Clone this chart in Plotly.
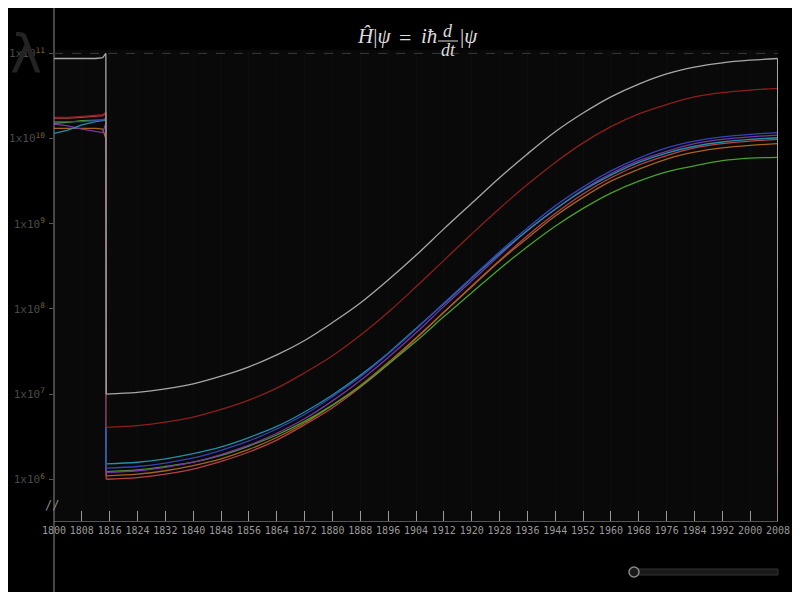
import plotly.graph_objects as go

# ---------------- data (log10 of values) ----------------
pre_years = [1800, 1804, 1808, 1812, 1814, 1814.9]
post_years = [1815, 1824, 1832, 1840, 1848, 1856, 1864, 1872, 1880, 1888, 1896,
              1904, 1912, 1920, 1928, 1936, 1944, 1952, 1960, 1968, 1976, 1984,
              1992, 2000, 2007.9]
end_year = 2008
end_log = 5.0

gray_pre = [10.94, 10.94, 10.94, 10.94, 10.95, 11.00]
gray_post = [7.00, 7.02, 7.06, 7.12, 7.21, 7.32, 7.46, 7.63, 7.84, 8.07, 8.34, 8.63, 8.94,
             9.24, 9.54, 9.82, 10.08, 10.30, 10.49, 10.64, 10.76, 10.84, 10.89, 10.92, 10.94]
red_pre = [10.25, 10.25, 10.26, 10.27, 10.28, 10.31]
red_post = [6.61, 6.63, 6.67, 6.73, 6.82, 6.93, 7.07, 7.25, 7.45, 7.69, 7.96, 8.26, 8.57,
            8.88, 9.18, 9.46, 9.72, 9.95, 10.14, 10.29, 10.40, 10.49, 10.54, 10.57, 10.59]
blue_pre = [10.20, 10.20, 10.20, 10.21, 10.22, 10.24]
blue_post = [6.13, 6.15, 6.19, 6.25, 6.34, 6.45, 6.59, 6.76, 6.97, 7.20, 7.47, 7.76, 8.07,
             8.37, 8.67, 8.95, 9.21, 9.43, 9.62, 9.77, 9.89, 9.97, 10.02, 10.05, 10.07]
purple_pre = [10.17, 10.15, 10.11, 10.08, 10.07, 10.18]
purple_post = [6.08, 6.10, 6.14, 6.20, 6.29, 6.40, 6.54, 6.71, 6.92, 7.16, 7.43, 7.72, 8.03,
               8.33, 8.63, 8.92, 9.17, 9.40, 9.59, 9.74, 9.85, 9.94, 9.99, 10.02, 10.04]
cyan_pre = [10.06, 10.10, 10.16, 10.20, 10.21, 10.23]
cyan_post = [6.18, 6.20, 6.24, 6.30, 6.38, 6.49, 6.62, 6.79, 6.99, 7.22, 7.48, 7.77, 8.06,
             8.36, 8.65, 8.92, 9.17, 9.39, 9.57, 9.72, 9.83, 9.91, 9.96, 9.99, 10.01]
orange_pre = [10.12, 10.12, 10.12, 10.12, 10.11, 10.00]
orange_post = [6.04, 6.06, 6.10, 6.16, 6.24, 6.35, 6.49, 6.66, 6.87, 7.10, 7.37, 7.66, 7.96,
               8.26, 8.56, 8.83, 9.09, 9.31, 9.50, 9.64, 9.76, 9.84, 9.89, 9.92, 9.94]
green_pre = [10.18, 10.19, 10.21, 10.22, 10.22, 10.22]
green_post = [6.09, 6.11, 6.15, 6.20, 6.28, 6.39, 6.52, 6.68, 6.87, 7.09, 7.35, 7.62, 7.91,
              8.19, 8.47, 8.73, 8.97, 9.18, 9.36, 9.50, 9.61, 9.68, 9.74, 9.77, 9.78]
pink_pre = [10.24, 10.24, 10.25, 10.26, 10.27, 10.30]
pink_post = [6.00, 6.02, 6.06, 6.12, 6.21, 6.32, 6.46, 6.64, 6.84, 7.08, 7.35, 7.65, 7.96,
             8.27, 8.57, 8.86, 9.12, 9.35, 9.54, 9.69, 9.80, 9.89, 9.94, 9.97, 9.99]

series = [
    ("pink", pink_pre, pink_post, "#b8404c"),
    ("orange", orange_pre, orange_post, "#a8641c"),
    ("green", green_pre, green_post, "#48a228"),
    ("purple", purple_pre, purple_post, "#7a34a8"),
    ("cyan", cyan_pre, cyan_post, "#2290aa"),
    ("blue", blue_pre, blue_post, "#3444b4"),
    ("red", red_pre, red_post, "#8e1e1e"),
    ("gray", gray_pre, gray_post, "#a8a8a8"),
]

x_ticks = list(range(1800, 2009, 8))
y_exps = [6, 7, 8, 9, 10, 11]

# ---------------- figure ----------------
# the page adds an 8px body margin, so the figure is 8px smaller and margins shifted
OFF = 8
W, H = 800 - OFF, 592 - OFF
L, R, T, B = 54 - OFF, 22, 50 - OFF, 71
PW, PH = W - L - R, H - T - B
YMIN, YMAX = 5.51, 11.04


def px(xp):  # page pixel -> paper
    return (xp - 54) / PW


def py(yp):
    return (521 - yp) / PH


fig = go.Figure()
for name, pre, post, col in series:
    ln = dict(color=col, width=1.3)
    fig.add_trace(go.Scatter(x=pre_years + post_years[:1],
                             y=[10 ** v for v in pre + post[:1]],
                             mode="lines", line=ln, hoverinfo="skip"))
    fig.add_trace(go.Scatter(x=post_years, y=[10 ** v for v in post],
                             mode="lines", line=dict(color=col, width=1.3, shape="spline",
                                                     smoothing=1.0),
                             hoverinfo="skip"))
    fig.add_trace(go.Scatter(x=post_years[-1:] + [end_year],
                             y=[10 ** v for v in post[-1:] + [end_log]],
                             mode="lines", line=ln, hoverinfo="skip"))

mono = "DejaVu Sans Mono"
fig.update_layout(
    width=W, height=H, margin=dict(l=L, r=R, t=T, b=B, autoexpand=False),
    paper_bgcolor="#000000", plot_bgcolor="#080908",
    showlegend=False,
    xaxis=dict(range=[1800, 2008], tickvals=x_ticks, ticks="inside", ticklen=10,
               tickcolor="#9a9a9a", tickwidth=1, showline=True, linecolor="#555555",
               tickangle=0, automargin=False,
               tickfont=dict(family=mono, size=10, color="#9a9a9a"),
               showgrid=True, gridcolor="#0d0f0d", zeroline=False),
    yaxis=dict(type="log", range=[YMIN, YMAX], automargin=False,
               tickvals=[10 ** e for e in y_exps],
               ticktext=["1x10<sup><span style='color:#7a6418'>%d</span></sup>" % e for e in y_exps],
               ticks="outside", ticklen=4, tickcolor="#555555", ticklabelstandoff=2,
               tickfont=dict(family=mono, size=11, color="#4a4a4a"),
               showgrid=False, zeroline=False, showline=False),
)

shapes = []
shapes.append(dict(type="line", xref="paper", yref="paper", x0=0, x1=0,
                   y0=py(592), y1=py(0), line=dict(color="#8a8a8a", width=1)))
y11 = (11 - YMIN) / (YMAX - YMIN)
shapes.append(dict(type="line", xref="paper", yref="paper", x0=0, x1=1,
                   y0=y11, y1=y11, line=dict(color="#3a3a3a", width=1, dash="dash")))
shapes.append(dict(type="rect", xref="paper", yref="paper", x0=px(634), x1=px(778),
                   y0=py(575), y1=py(569), fillcolor="#1a1a1a",
                   line=dict(color="#333333", width=1)))
shapes.append(dict(type="circle", xref="paper", yref="paper", x0=px(629), x1=px(639),
                   y0=py(577), y1=py(567), fillcolor="#1a1a1a",
                   line=dict(color="#8a8a8a", width=1.5)))
shapes.append(dict(type="line", xref="paper", yref="paper", x0=px(438), x1=px(458),
                   y0=py(41), y1=py(41), line=dict(color="#dcdcdc", width=1)))

serif = "Liberation Serif"
tc = "#dcdcdc"
ann = [
    dict(text="<i>Ĥ</i>|<i>ψ</i>", x=px(355), y=py(36), xanchor="left", size=21),
    dict(text="=", x=px(405), y=py(37), xanchor="center", size=22),
    dict(text="<i>iħ</i>", x=px(439), y=py(36), xanchor="right", size=21),
    dict(text="<i>d</i>", x=px(448), y=py(31), xanchor="center", size=18),
    dict(text="<i>dt</i>", x=px(448), y=py(50), xanchor="center", size=18),
    dict(text="|<i>ψ</i>", x=px(458), y=py(36), xanchor="left", size=21),
]
annotations = []
for a in ann:
    annotations.append(dict(text=a["text"], x=a["x"], y=a["y"], xref="paper", yref="paper",
                            xanchor=a["xanchor"], yanchor="middle", showarrow=False,
                            font=dict(family=serif, size=a["size"], color=tc)))
annotations.append(dict(text="λ", x=px(26), y=py(54), xref="paper", yref="paper",
                        xanchor="center", yanchor="middle", showarrow=False,
                        font=dict(family="DejaVu Sans", size=54, color="#232323")))
annotations.append(dict(text="//", x=px(52), y=py(505), xref="paper", yref="paper",
                        xanchor="center", yanchor="middle", showarrow=False,
                        font=dict(family=mono, size=12, color="#8a8a8a")))

fig.update_layout(shapes=shapes, annotations=annotations)
fig.write_html("out.html")
